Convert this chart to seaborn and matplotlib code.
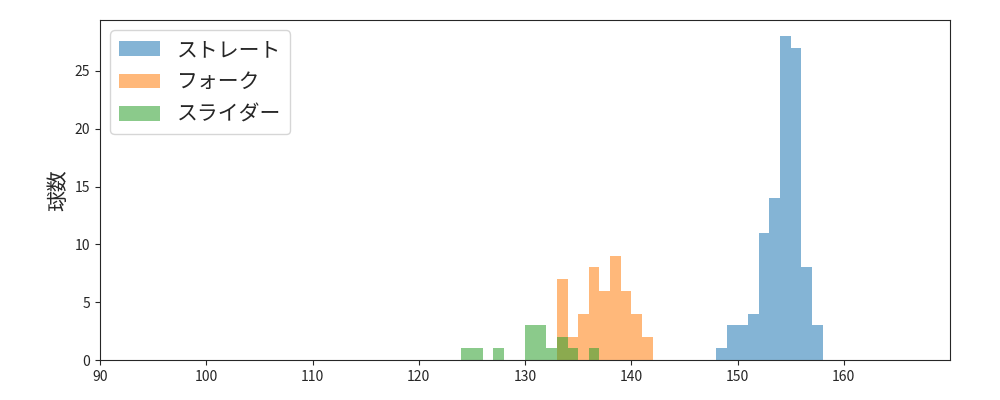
import numpy as np
import pandas as pd
import matplotlib
matplotlib.use("Agg")
import matplotlib.pyplot as plt
import seaborn as sns

sns.set_style("ticks")
plt.rcParams['font.family'] = ['Noto Sans CJK JP', 'DejaVu Sans']

labels = ["ストレート", "フォーク", "スライダー"]
straight_speed = [148, 149, 150, 151, 152, 153, 154, 155, 156, 157]
straight_count = [1, 3, 3, 4, 11, 14, 28, 27, 8, 3]
fork_speed = [133, 134, 135, 136, 137, 138, 139, 140, 141]
fork_count = [7, 2, 4, 8, 6, 9, 6, 4, 2]
slider_speed = [124, 125, 127, 130, 131, 132, 133, 134, 136]
slider_count = [1, 1, 1, 3, 3, 1, 2, 1, 1]

frames = []
for lab, sp, ct in [(labels[0], straight_speed, straight_count),
                    (labels[1], fork_speed, fork_count),
                    (labels[2], slider_speed, slider_count)]:
    frames.append(pd.DataFrame({"speed": np.array(sp) + 0.5, "n": ct, "type": lab}))
df = pd.concat(frames, ignore_index=True)

fig, ax = plt.subplots(figsize=(10, 4), dpi=100)
colors = ["#1f77b4", "#ff7f0e", "#2ca02c"]
for lab, c in zip(labels, colors):
    d = df[df["type"] == lab]
    lo, hi = int(d["speed"].min()), int(d["speed"].max()) + 1
    sns.histplot(data=d, x="speed", weights="n", binwidth=1, binrange=(lo, hi),
                 color=c, alpha=0.55, linewidth=0, ax=ax, label=lab)
ax.set_xlim(90, 170)
ax.set_xticks(range(90, 170, 10))
ax.set_xlabel("")
ax.set_ylabel("球数", fontsize=15)
ax.legend(fontsize=15, loc="upper left")
fig.subplots_adjust(left=0.1, right=0.95, top=0.95, bottom=0.1)
fig.savefig("out.png")
